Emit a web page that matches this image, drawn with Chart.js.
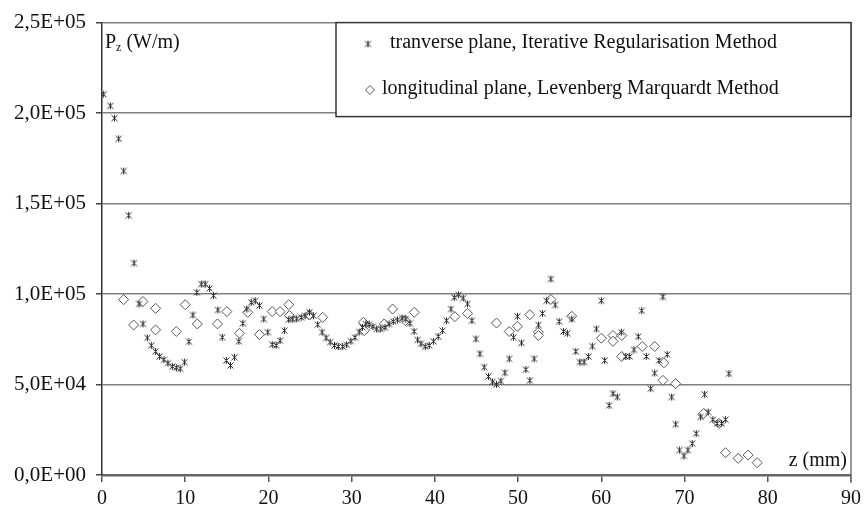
<!DOCTYPE html>
<html>
<head>
<meta charset="utf-8">
<script src="https://cdn.jsdelivr.net/npm/chart.js@4.4.1/dist/chart.umd.min.js"></script>
<style>
  html, body { margin: 0; padding: 0; background: #fff; }
</style>
</head>
<body>
<canvas id="myChart" width="866" height="523"></canvas>
<script>
// transverse plane, Iterative Regularisation Method (z in mm, Pz in W/m)
const transZ = [0.2, 1.0, 1.5, 2.0, 2.6, 3.2, 3.85, 4.45, 4.92, 5.44, 5.92, 6.44, 6.92, 7.44, 7.92, 8.45, 8.93, 9.4, 9.92,
    10.44, 10.92, 11.4, 11.93, 12.4, 12.92, 13.4, 13.92, 14.45, 14.93, 15.44, 15.92, 16.44, 16.92, 17.4, 17.93, 18.41, 18.92,
    19.44, 19.92, 20.45, 20.93, 21.4, 21.92, 22.44, 22.92, 23.4, 23.93, 24.4, 24.92, 25.4, 25.92, 26.45, 26.93, 27.41, 27.93,
    28.4, 28.92, 29.4, 29.9, 30.4, 30.9, 31.3, 31.7, 32.1, 32.55, 33.0, 33.5, 34.0, 34.5, 35.0, 35.5, 36.05, 36.5, 37.0, 37.5,
    37.92, 38.33, 38.84, 39.32, 39.84, 40.4, 40.92, 41.4, 41.93, 42.32, 42.84, 43.4, 43.92, 44.45, 44.93, 45.41, 45.92, 46.44,
    46.92, 47.4, 47.93, 48.41, 48.93, 49.45, 49.92, 50.4, 50.93, 51.41, 51.93, 52.44, 52.92, 53.4, 53.93, 54.45, 54.93, 55.44,
    55.92, 56.45, 56.93, 57.41, 57.93, 58.44, 58.92, 59.4, 60.0, 60.4, 60.93, 61.4, 61.92, 62.4, 62.93, 63.4, 63.92, 64.44,
    64.85, 65.4, 65.93, 66.41, 66.93, 67.4, 67.92, 68.45, 68.93, 69.4, 69.92, 70.4, 70.92, 71.4, 71.93, 72.41, 72.84, 73.4,
    73.92, 74.45, 74.93, 75.33];
const transP = [210400, 204000, 197200, 185800, 168000, 143500, 117100, 94500, 83500, 75800, 71600, 68300, 65500, 63700, 61800,
    60000, 59300, 58700, 62400, 73700, 88400, 100900, 105500, 105500, 103100, 99100, 91200, 76100, 63300, 60500, 65100, 73900,
    83800, 91700, 95400, 96300, 93600, 86200, 78900, 72100, 71600, 74300, 79800, 85900, 86200, 86300, 87100, 88000, 89900,
    88000, 83100, 78900, 75800, 73400, 71600, 71000, 71000, 72000, 74000, 76000, 79000, 81600, 83500, 83100, 82000, 80700,
    80700, 81600, 83500, 84800, 85700, 86800, 86200, 83800, 79400, 74700, 72500, 71000, 71600, 73900, 76500, 79800, 85300,
    91700, 98100, 99600, 97800, 94500, 85300, 75200, 67000, 59600, 54500, 51400, 50100, 51900, 56500, 64200, 76100, 87700,
    73000, 58300, 52300, 64200, 82900, 89300, 96300, 108300, 94000, 84800, 79300, 78300, 86200, 68300, 62400, 62400, 65500,
    71200, 80700, 96300, 63300, 38500, 45000, 43100, 78900, 65500, 65500, 69200, 76500, 90800, 65500, 47700, 56300, 63300,
    98500, 66600, 43100, 28100, 13800, 10500, 13800, 17400, 22900, 32100, 44600, 34800, 30600, 28500, 28500, 30600, 56000];

// longitudinal plane, Levenberg Marquardt Method
const longZ = [2.6, 3.8, 4.92, 6.44, 6.44, 8.93, 10.0, 11.45, 13.88, 15.0, 16.52, 17.52, 18.92, 20.45, 21.4, 22.44, 22.52,
    24.92, 26.52, 31.4, 31.52, 33.92, 34.92, 36.45, 37.52, 42.4, 43.92, 47.4, 48.93, 49.92, 51.41, 52.44, 52.44, 53.93, 56.45,
    60.0, 61.4, 61.4, 62.45, 62.45, 64.92, 66.41, 67.4, 67.52, 68.93, 72.3, 74.13, 74.93, 76.44, 77.64, 78.72];
const longP = [96900, 82900, 95900, 92100, 80200, 79300, 94100, 83500, 83500, 90300, 78300, 89900, 77600, 90300, 90300,
    94100, 88100, 88400, 87100, 84400, 79800, 83500, 91700, 85300, 89900, 87500, 89300, 84000, 79300, 82200, 88600, 78900,
    77100, 97000, 87700, 75600, 77100, 73900, 77100, 65500, 71000, 71000, 52300, 62000, 50500, 34000, 28500, 12300, 9200,
    11000, 6800];

const seriesLabels = ['tranverse plane, Iterative Regularisation Method', 'longitudinal plane, Levenberg Marquardt Method'];
const yTickLabels = ['0,0E+00', '5,0E+04', '1,0E+05', '1,5E+05', '2,0E+05', '2,5E+05'];
const yTitle = ['P', 'z', ' (W/m)'];
const xTitle = 'z (mm)';

const serif = '"Liberation Serif", "Times New Roman", serif';

// excel style "*" marker
function starMark() {
    const c = document.createElement('canvas');
    c.width = 9;
    c.height = 9;
    const g = c.getContext('2d');
    g.strokeStyle = '#2a2a2a';
    g.lineWidth = 1;
    g.beginPath();
    g.moveTo(1.5, 1.5); g.lineTo(7.5, 7.5);
    g.moveTo(7.5, 1.5); g.lineTo(1.5, 7.5);
    g.moveTo(4.5, 1); g.lineTo(4.5, 8);
    g.stroke();
    return c;
}
const star = starMark();

function diamond(ctx, x, y, r) {
    ctx.beginPath();
    ctx.moveTo(x, y - r);
    ctx.lineTo(x + r, y);
    ctx.lineTo(x, y + r);
    ctx.lineTo(x - r, y);
    ctx.closePath();
    ctx.fillStyle = '#fff';
    ctx.fill();
    ctx.strokeStyle = '#555';
    ctx.lineWidth = 1;
    ctx.stroke();
}

const extras = {
    id: 'extras',
    afterDraw(chart) {
        const ctx = chart.ctx;
        const a = chart.chartArea;
        ctx.save();

        // right frame
        ctx.strokeStyle = '#777';
        ctx.lineWidth = 1.5;
        ctx.beginPath();
        ctx.moveTo(a.right, a.top);
        ctx.lineTo(a.right, a.bottom + 8);
        ctx.stroke();

        // legend box
        const lx = 336, ly = a.top, lw = a.right - 336, lh = 94;
        ctx.fillStyle = '#fff';
        ctx.fillRect(lx, ly, lw, lh);
        ctx.strokeStyle = '#333';
        ctx.lineWidth = 1.5;
        ctx.strokeRect(lx, ly, lw, lh);

        ctx.fillStyle = '#111';
        ctx.font = '20px ' + serif;
        ctx.textBaseline = 'middle';
        ctx.textAlign = 'left';
        ctx.drawImage(star, 368 - 4.5, 44 - 4.5);
        ctx.fillText(seriesLabels[0], 390, 43);
        diamond(ctx, 370, 90, 4.5);
        ctx.fillStyle = '#111';
        ctx.fillText(seriesLabels[1], 382, 89);

        // axis titles
        ctx.textBaseline = 'alphabetic';
        ctx.font = '20px ' + serif;
        let tx = a.left + 3;
        ctx.fillText(yTitle[0], tx, 48);
        tx += ctx.measureText(yTitle[0]).width;
        ctx.font = '12px ' + serif;
        ctx.fillText(yTitle[1], tx, 51);
        tx += ctx.measureText(yTitle[1]).width;
        ctx.font = '20px ' + serif;
        ctx.fillText(yTitle[2], tx, 48);

        ctx.textAlign = 'right';
        ctx.fillText(xTitle, a.right - 4, 466);
        ctx.restore();
    }
};

const chartCtx = document.getElementById('myChart');

const myChart = new Chart(chartCtx, {
    type: 'scatter',
    data: {
        datasets: [{
            label: seriesLabels[0],
            data: transZ.map((z, i) => ({x: z, y: transP[i]})),
            pointStyle: star,
            pointRadius: 4.5
        }, {
            label: seriesLabels[1],
            data: longZ.map((z, i) => ({x: z, y: longP[i]})),
            pointStyle: 'rectRot',
            pointRadius: 5,
            borderColor: '#555',
            backgroundColor: '#fff',
            borderWidth: 1
        }]
    },
    options: {
        responsive: false,
        animation: false,
        layout: {padding: {top: 19, right: 14, left: 0, bottom: 0}},
        plugins: {
            legend: {display: false},
            tooltip: {enabled: false}
        },
        scales: {
            x: {
                type: 'linear',
                min: 0,
                max: 90,
                afterFit: s => { s.height = 48; },
                ticks: {
                    stepSize: 10,
                    color: '#111',
                    padding: 5,
                    maxRotation: 0,
                    font: {family: serif, size: 20}
                },
                grid: {drawOnChartArea: false, tickLength: 7, color: '#555', lineWidth: 1.5},
                border: {color: '#666', width: 2.5}
            },
            y: {
                min: 0,
                max: 250000,
                afterFit: s => { s.width = 102; },
                ticks: {
                    stepSize: 50000,
                    color: '#111',
                    padding: 10,
                    font: {family: serif, size: 21},
                    callback: (v, i) => yTickLabels[i]
                },
                grid: {
                    color: c => c.tick && c.tick.value === 0 ? 'rgba(0,0,0,0)' : '#808080',
                    lineWidth: 1.5,
                    tickLength: 6,
                    tickColor: '#444'
                },
                border: {color: '#333', width: 1.5}
            }
        }
    },
    plugins: [extras]
});
</script>
</body>
</html>
